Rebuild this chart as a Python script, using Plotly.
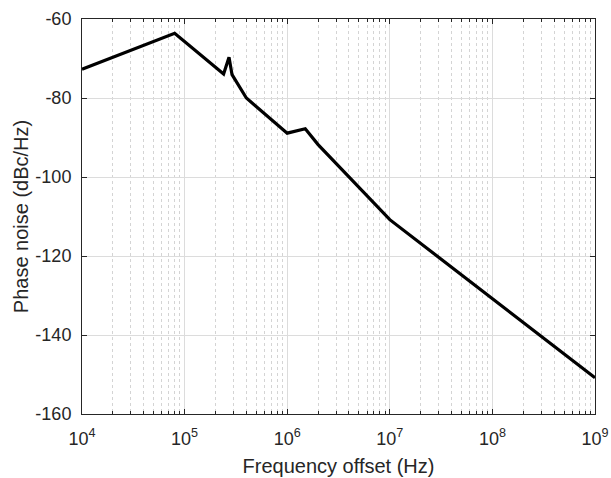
import plotly.graph_objects as go

freq = [1e4, 8e4, 2.4e5, 2.71e5, 2.9e5, 4e5, 1e6, 1.5e6, 2e6, 1e7, 1e9]
noise = [-72.7, -63.6, -73.9, -69.7, -74.1, -80.0, -88.9, -87.8, -91.8, -110.8, -150.8]

x_major = [1e4, 1e5, 1e6, 1e7, 1e8, 1e9]
x_major_text = ["10<sup>4</sup>", "10<sup>5</sup>", "10<sup>6</sup>", "10<sup>7</sup>", "10<sup>8</sup>", "10<sup>9</sup>"]
x_minor = [m * 10 ** e for e in range(4, 9) for m in range(2, 10)]
y_ticks = [-160, -140, -120, -100, -80, -60]
y_text = ["-160", "-140", "-120", "-100", "-80", "-60"]

axis_col = "#262626"
fig = go.Figure()
fig.add_trace(go.Scatter(x=freq, y=noise, mode="lines",
                         line=dict(color="black", width=3.2), showlegend=False))

fig.update_layout(
    width=611, height=478,
    margin=dict(l=82, r=16, t=19, b=64),
    plot_bgcolor="white", paper_bgcolor="white",
    font=dict(family="Liberation Sans, Arial", size=18, color=axis_col),
    xaxis=dict(
        type="log", range=[4, 9],
        tickmode="array", tickvals=x_major, ticktext=x_major_text,
        showgrid=True, gridcolor="#dcdcdc", gridwidth=1,
        showline=True, linecolor=axis_col, linewidth=1, mirror="ticks",
        ticks="inside", ticklen=5, tickcolor=axis_col,
        tickfont=dict(size=18), ticklabelstandoff=8,
        minor=dict(tickmode="array", tickvals=x_minor, ticks="inside", ticklen=3,
                   tickcolor=axis_col, showgrid=True, gridcolor="#d4d4d4",
                   griddash="dot", gridwidth=1),
        title=dict(text="Frequency offset (Hz)", font=dict(size=20), standoff=11),
        zeroline=False, automargin=False,
    ),
    yaxis=dict(
        range=[-160, -60],
        tickmode="array", tickvals=y_ticks, ticktext=y_text,
        showgrid=True, gridcolor="#dcdcdc", gridwidth=1,
        showline=True, linecolor=axis_col, linewidth=1, mirror="ticks",
        ticks="inside", ticklen=5, tickcolor=axis_col,
        tickfont=dict(size=18), ticklabelstandoff=6,
        title=dict(text="Phase noise (dBc/Hz)", font=dict(size=20), standoff=1),
        zeroline=False, automargin=False,
    ),
)

fig.write_html("out.html")
